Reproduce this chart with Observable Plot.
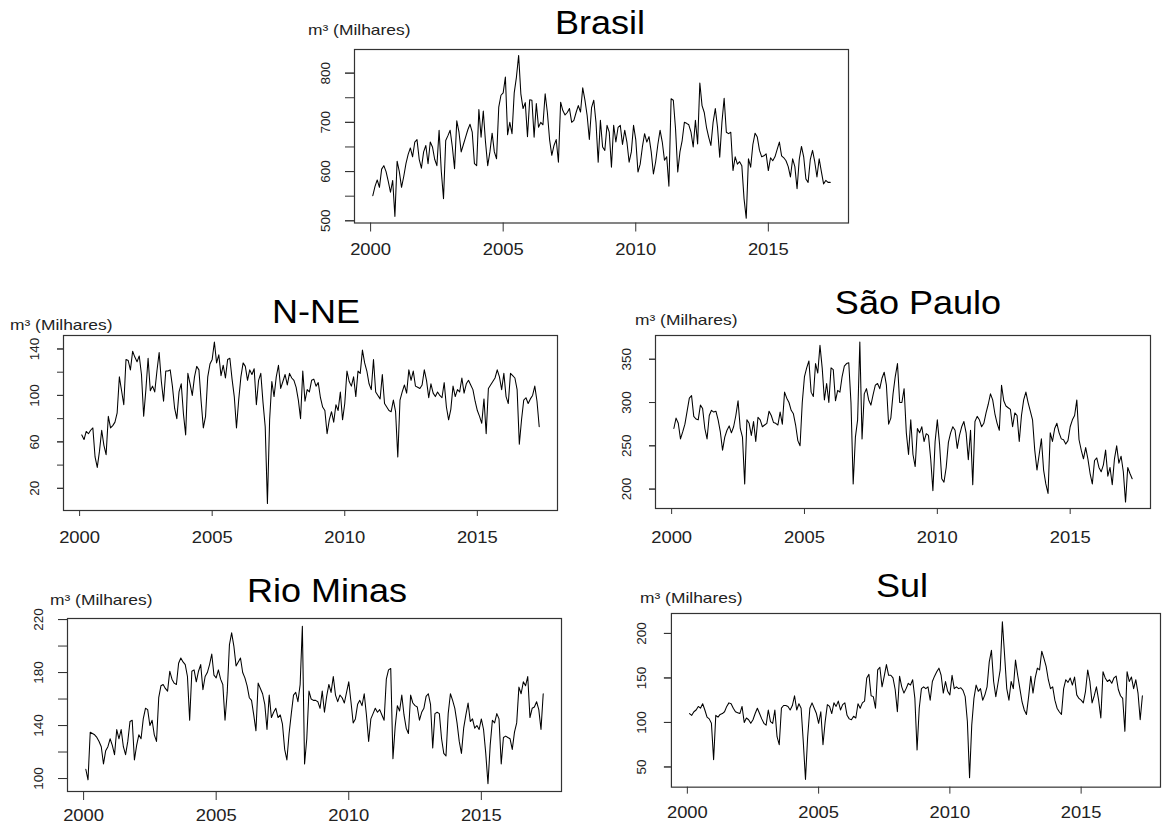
<!DOCTYPE html>
<html>
<head>
<meta charset="utf-8">
<script src="https://cdn.jsdelivr.net/npm/d3@7"></script>
<script src="https://cdn.jsdelivr.net/npm/@observablehq/plot@0.6"></script>
<style>
  html, body { margin: 0; padding: 0; background: #fff; }
  body { position: relative; width: 1163px; height: 828px; overflow: hidden;
         font-family: "Liberation Sans", Arial, sans-serif; }
  .panel { position: absolute; }
  .title { position: absolute; font-size: 34px; color: #000; white-space: nowrap;
           line-height: 1; transform: translateX(-50%) scaleX(1.06); }
  .unit { position: absolute; font-size: 15px; color: #222; white-space: nowrap; line-height: 1;
          transform-origin: 0 50%; transform: scaleX(1.16); }
</style>
</head>
<body>
<script>
// Monthly sales, thousand m³, February 2000 – May 2017
const brasil = [
  551,570,583,568,605,612,600,580,558,582,
  509,621,600,568,590,616,635,648,630,660,
  665,625,607,640,653,616,660,650,625,612,
  684,600,545,663,673,684,650,606,703,680,
  640,655,670,685,696,680,616,612,726,670,
  723,660,612,640,678,640,626,731,755,760,
  792,675,700,677,760,792,836,758,728,740,
  671,746,745,670,738,690,700,695,758,720,
  665,633,653,665,619,741,724,715,720,728,
  700,704,720,734,721,770,745,714,665,730,
  745,700,619,704,650,643,694,680,609,694,
  660,690,694,655,684,660,619,640,694,665,
  599,615,650,677,660,671,640,595,620,655,
  684,660,623,630,570,748,745,687,599,640,
  663,700,698,695,680,650,704,656,780,734,
  720,690,670,653,700,728,690,629,700,749,
  680,677,680,602,630,615,620,612,545,505,
  626,609,655,678,670,643,630,632,636,602,
  628,622,630,645,660,632,628,622,610,589,
  626,610,565,625,651,630,585,578,625,643,
  620,589,626,600,575,582,578,578
];

const nne = [
  66,62,69,67,70,72,47,38,52,70,
  57,49,82,72,74,77,85,116,104,92,
  131,130,122,138,133,129,134,118,82,105,
  132,104,108,103,121,137,112,95,121,121,
  122,108,89,80,103,110,84,66,119,110,
  100,116,125,122,95,72,82,116,127,131,
  146,128,135,117,126,115,131,132,114,99,
  72,96,116,128,125,113,122,118,123,92,
  113,119,94,73,7,79,112,99,116,126,
  106,112,118,109,119,115,113,107,96,80,
  121,95,105,103,113,114,108,111,98,90,
  87,67,79,86,77,92,87,103,79,93,
  121,112,108,116,99,121,119,139,128,121,
  110,105,131,103,100,97,118,93,90,87,
  86,96,86,47,96,103,109,102,122,113,
  121,108,107,106,109,122,113,98,110,102,
  99,103,100,98,111,90,79,88,108,99,
  105,103,115,102,110,113,109,105,95,87,
  82,76,97,67,106,109,112,115,122,116,
  105,119,99,93,119,117,115,105,58,79,
  96,98,93,97,100,108,95,73
];

const saoPaulo = [
  270,282,276,258,266,275,290,305,308,284,
  281,280,297,293,270,258,285,291,289,290,
  280,266,245,260,268,273,265,272,285,302,
  270,260,206,280,276,262,278,255,283,280,
  272,274,276,290,285,277,276,274,289,275,
  312,305,300,291,287,274,256,250,300,330,
  340,348,312,307,345,334,366,340,303,322,
  300,340,338,302,314,312,330,342,345,346,
  300,206,260,280,370,258,310,316,303,297,
  309,320,322,316,328,335,320,275,282,310,
  330,345,300,300,316,265,240,280,240,226,
  270,265,272,255,264,262,235,198,255,280,
  252,212,208,225,254,265,272,268,247,262,
  272,278,265,234,268,205,278,284,280,272,
  276,288,298,310,303,287,276,268,320,302,
  296,294,292,272,288,285,255,285,303,312,
  300,290,280,245,222,240,258,222,206,195,
  265,255,270,276,265,258,257,252,256,272,
  280,285,303,257,245,235,248,235,218,206,
  233,236,225,220,228,245,215,225,205,235,
  250,230,238,220,185,225,218,212
];

const rioMinas = [
  107,99,135,134,133,131,128,124,111,121,
  124,130,125,118,137,130,137,124,118,128,
  143,144,114,125,133,130,145,153,152,140,
  144,133,128,161,170,171,168,166,181,175,
  172,171,187,191,188,186,177,144,181,182,
  173,181,186,167,177,180,186,194,178,176,
  182,175,171,144,165,201,210,200,185,188,
  191,180,176,170,161,159,148,136,172,168,
  164,156,137,163,146,150,153,146,148,141,
  122,114,134,149,163,165,158,171,215,111,
  130,166,160,159,159,158,153,166,150,162,
  171,165,177,163,158,163,161,157,165,173,
  158,142,145,156,159,155,164,148,128,145,
  149,153,150,152,148,144,175,182,183,115,
  139,155,151,163,148,138,134,163,157,155,
  154,144,150,153,162,164,156,123,149,150,
  149,130,119,117,149,164,159,153,142,128,
  119,138,148,157,143,145,138,140,137,145,
  137,119,96,125,144,142,149,145,111,131,
  132,131,130,122,135,142,169,164,173,170,
  177,146,153,154,158,152,137,164
];

const sul = [
  110,108,112,114,118,116,121,114,106,104,
  99,58,108,106,109,110,112,118,122,121,
  116,112,111,110,118,100,105,103,99,103,
  110,116,110,104,99,97,114,101,99,114,
  84,75,116,119,119,118,114,119,130,114,
  121,116,78,36,84,116,122,116,110,99,
  112,75,101,120,118,110,122,118,124,114,
  120,122,108,104,103,107,105,121,116,122,
  124,150,154,130,129,116,159,162,140,152,
  165,153,153,150,137,112,152,140,133,138,
  144,142,148,127,69,116,138,140,138,140,
  125,146,152,157,161,153,133,146,135,131,
  153,138,140,138,139,136,129,101,38,97,
  127,142,135,138,125,131,140,168,181,146,
  129,144,159,213,176,138,125,146,138,170,
  153,138,123,114,109,129,152,133,150,161,
  159,180,172,163,148,138,140,125,116,112,
  109,138,148,145,150,142,151,131,127,125,
  122,135,159,146,122,130,140,125,105,157,
  150,146,148,144,150,152,137,130,127,90,
  157,146,151,138,148,133,103,130
];

const yearTicks = [2000, 2005, 2010, 2015];
const unitLabel = "m³ (Milhares)";

const panels = [
  { title: "Brasil", values: brasil,
    box: { left: 354, right: 848, top: 49, bottom: 222.5 },
    yDomain: [495.5, 848], yTicks: [500, 550, 600, 650, 700, 750, 800], yLabels: [500, 600, 700, 800],
    titlePos: { x: 600, baseline: 34 }, unitPos: { x: 308, baseline: 35 }, xOffset: 21, tick: 9 },
  { title: "N-NE", values: nne,
    box: { left: 63, right: 557, top: 335, bottom: 510 },
    yDomain: [0.9, 151.6], yTicks: [20, 40, 60, 80, 100, 120, 140], yLabels: [20, 60, 100, 140],
    titlePos: { x: 316, baseline: 323 }, unitPos: { x: 10, baseline: 330 }, xOffset: 21.5, tick: 6 },
  { title: "São Paulo", values: saoPaulo,
    box: { left: 655, right: 1150, top: 335, bottom: 508 },
    yDomain: [177.6, 377.4], yTicks: [200, 250, 300, 350], yLabels: [200, 250, 300, 350],
    titlePos: { x: 918, baseline: 314 }, unitPos: { x: 635, baseline: 325 }, xOffset: 23.5, tick: 6 },
  { title: "Rio Minas", values: rioMinas,
    box: { left: 67, right: 561, top: 618, bottom: 791 },
    yDomain: [90.2, 220.8], yTicks: [100, 120, 140, 160, 180, 200, 220], yLabels: [100, 140, 180, 220],
    titlePos: { x: 327, baseline: 602 }, unitPos: { x: 50, baseline: 605 }, xOffset: 18.5, tick: 9 },
  { title: "Sul", values: sul,
    box: { left: 671, right: 1161, top: 613, bottom: 787 },
    yDomain: [27.3, 222.4], yTicks: [50, 100, 150, 200], yLabels: [50, 100, 150, 200],
    titlePos: { x: 902, baseline: 597 }, unitPos: { x: 640, baseline: 603 }, xOffset: 19.5, tick: 7 }
];

const FONT = '"Liberation Sans", Arial, sans-serif';

// Widen horizontal tick labels slightly around their own anchor point.
function widenText(svg, selector, sx) {
  d3.select(svg).selectAll(selector).each(function () {
    const tr = this.getAttribute("transform");
    if (tr) {
      this.setAttribute("transform", tr + ` scale(${sx},1)`);
    } else {
      const x = +this.getAttribute("x") || 0;
      this.setAttribute("transform", `translate(${x},0) scale(${sx},1) translate(${-x},0)`);
    }
  });
}

function drawPanel(p) {
  const ml = 52, mr = 3, mt = 3, mb = 46;
  const w = p.box.right - p.box.left;
  const h = p.box.bottom - p.box.top;
  const series = p.values.map((v, i) => ({ t: 2000 + (i + 1) / 12, v }));

  const svg = Plot.plot({
    width: w + ml + mr,
    height: h + mt + mb,
    marginLeft: ml, marginRight: mr, marginTop: mt, marginBottom: mb,
    style: { fontFamily: FONT, fontSize: "15px", color: "#222", background: "transparent", overflow: "visible" },
    x: { domain: [1999.393, 2018.023], label: null },
    y: { domain: p.yDomain, label: null },
    marks: [
      Plot.line(series, { x: "t", y: "v", stroke: "#000", strokeWidth: 1.05 }),
      Plot.frame({ stroke: "#333", strokeWidth: 1.2 }),
      Plot.axisX({ ticks: yearTicks, tickFormat: d => String(d), tickSize: p.tick,
                   tickPadding: p.xOffset - p.tick, fontSize: 16, stroke: "#333" }),
      Plot.axisY({ ticks: p.yTicks, tickFormat: () => "", tickSize: p.tick, stroke: "#333" }),
      Plot.axisY({ ticks: p.yLabels, tickRotate: -90, tickSize: p.tick, tickPadding: 25 - p.tick,
                   fontSize: 13.5, stroke: "#333" })
    ]
  });

  widenText(svg, 'g[aria-label="x-axis tick label"] text', 1.15);

  const holder = document.createElement("div");
  holder.className = "panel";
  holder.style.left = (p.box.left - ml) + "px";
  holder.style.top = (p.box.top - mt) + "px";
  holder.appendChild(svg);
  document.body.appendChild(holder);

  const t = document.createElement("div");
  t.className = "title";
  t.textContent = p.title;
  t.style.left = p.titlePos.x + "px";
  t.style.top = (p.titlePos.baseline - 0.8465 * 34) + "px";
  document.body.appendChild(t);

  const u = document.createElement("div");
  u.className = "unit";
  u.textContent = unitLabel;
  u.style.left = p.unitPos.x + "px";
  u.style.top = (p.unitPos.baseline - 0.8465 * 15) + "px";
  document.body.appendChild(u);
}

panels.forEach(drawPanel);
</script>
</body>
</html>
